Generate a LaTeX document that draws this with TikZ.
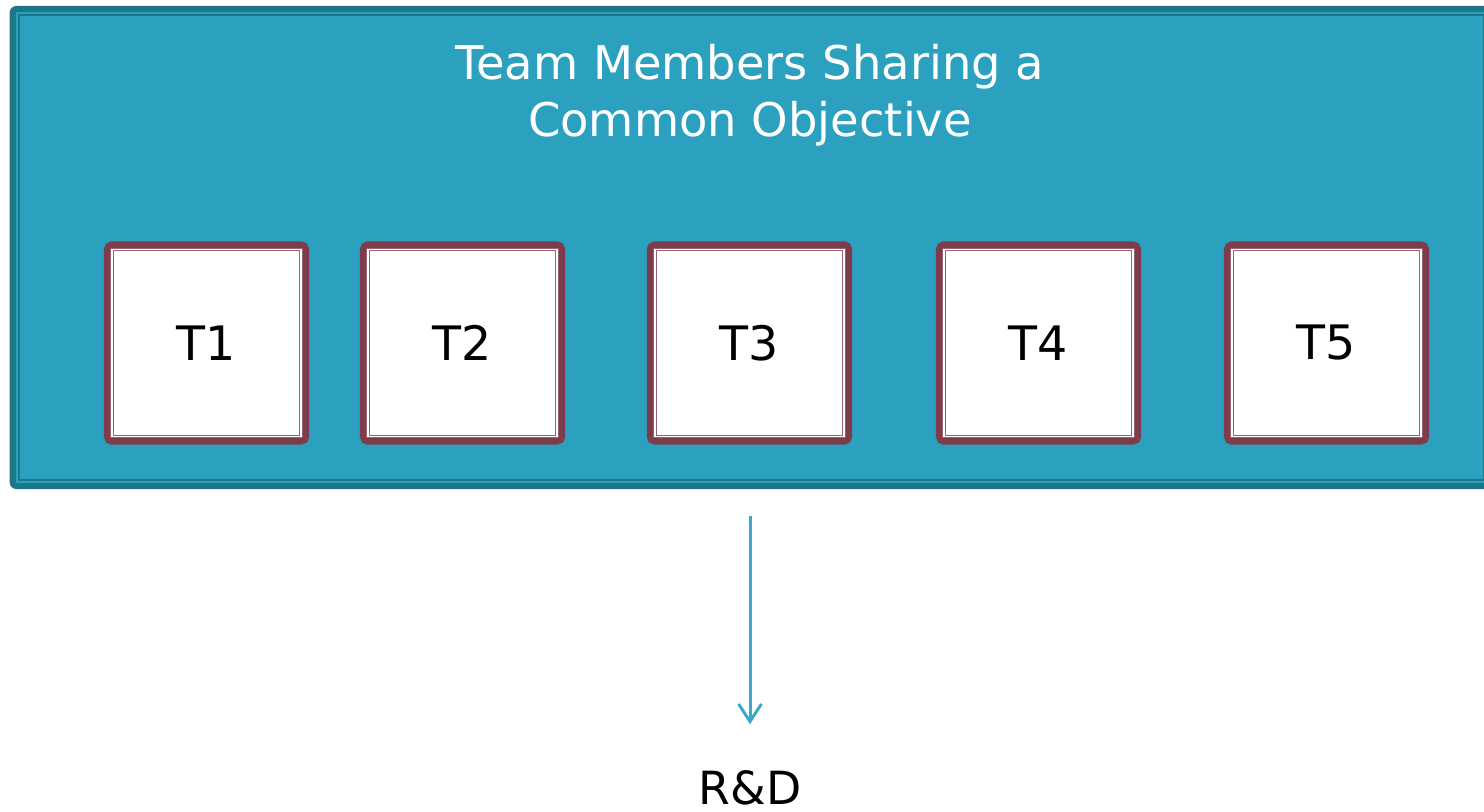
\documentclass[tikz,border=0pt]{standalone}
\usepackage{fontspec}
\setmainfont{DejaVu Sans}
\usetikzlibrary{arrows.meta}

\definecolor{teamfill}{HTML}{2CA1BF}
\definecolor{teamedge}{HTML}{1E7789}
\definecolor{memberedge}{HTML}{7D3C4B}
\definecolor{flowcol}{HTML}{3AA9C7}

\tikzset{
  member/.style={draw=memberedge, line width=2pt, fill=white, rounded corners=1.2pt,
    minimum width=19.8mm, minimum height=19.6mm, inner sep=0pt, font=\fontsize{13.5}{16}\selectfont},
  memberin/.style={draw=memberedge!80, double=white, double distance=0.35pt, line width=0.3pt},
  flow/.style={flowcol, line width=0.85pt, -{Straight Barb[length=5pt, width=6.5pt, line width=0.85pt]}}
}

\begin{document}
\begin{tikzpicture}[x=0.01cm, y=-0.01cm]
\useasboundingbox (0,0) rectangle (1484,812);
% outer team frame
\node[fill=teamedge, rounded corners=2pt, minimum width=148mm, minimum height=48.3mm, inner sep=0pt] (team) at (750,247.5) {};
\fill[teamfill] (16,12) rectangle (1484,483);
\draw[teamedge, line width=0.45pt] (19,15) rectangle (1484,480);
\node[white, align=center, font=\fontsize{13.2}{16.2}\selectfont] (title) at (750,95) {Team Members Sharing a\\Common Objective};

% members
\foreach \x/\n in {206.5/1, 462.5/2, 749.5/3, 1038.5/4, 1326.5/5} {
  \node[member] (t\n) at (\x,343) {T\n};
  \draw[memberin] ([shift={(8,8)}]t\n.north west) rectangle ([shift={(-8,-8)}]t\n.south east);
}

\node[font=\fontsize{13}{16}\selectfont] (rd) at (750,788) {R\&D};
\draw[flow, shorten <=2.6mm, shorten >=3.4mm] (team) -- (rd);
\end{tikzpicture}
\end{document}
